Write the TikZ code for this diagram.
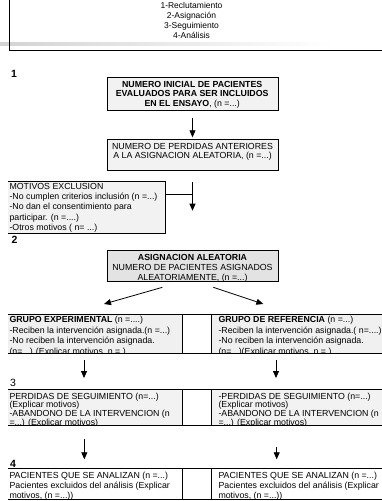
\documentclass[tikz,border=0pt]{standalone}
\usepackage{fontspec}
\setmainfont{Liberation Sans}
\usetikzlibrary{arrows.meta}
\definecolor{paleGray}{HTML}{F2F2F2}
\definecolor{cellGray}{HTML}{F0F0F0}
\definecolor{midGray}{HTML}{E3E3E3}
\begin{document}
\begin{tikzpicture}[x=1pt,y=-1pt,
  frame/.style={draw=black,line width=0.9pt},
  cell/.style={rectangle,inner sep=0pt,outer sep=0pt},
  body/.style={inner sep=0pt,anchor=north west,align=left,font=\fontsize{8.8}{10.5}\selectfont},
  cbody/.style={inner sep=0pt,anchor=north,align=center,font=\fontsize{8.8}{10}\selectfont},
  arr/.style={-{Triangle[length=7pt,width=6pt]},line width=0.8pt},
  link/.style={line width=0.8pt},
  stage/.style={inner sep=0pt,font=\bfseries\fontsize{10.5}{12}\selectfont}]
\useasboundingbox (0,0) rectangle (382,501);

% header with the four phases
\shade[left color=black!17,right color=white] (0,42) rectangle (335,45);
\draw[line width=1pt] (9.5,0) |- (382,50);
\node[cbody,font=\fontsize{8.5}{10}\selectfont] (hdr) at (191.5,1.2)
  {\rule{0pt}{7pt}1-Reclutamiento\\2-Asignación\\3-Seguimiento\\4-Análisis};

% phase 1: recruitment
\node[stage] (s1) at (14,74) {1};
\node[cell,frame,fill=paleGray,minimum width=171pt,minimum height=32.7pt] (b1) at (192.5,93.65) {};
\node[cbody,font=\fontsize{8.8}{9.7}\selectfont] (b1t) at (192.2,80)
  {\rule{0pt}{7pt}\textbf{NUMERO INICIAL DE PACIENTES}\\\textbf{EVALUADOS PARA SER INCLUIDOS}\\\textbf{EN EL ENSAYO}, (n =...)};

\node[cell,frame,fill=paleGray,minimum width=171pt,minimum height=31.7pt] (b2) at (192.5,154.85) {};
\node[cbody,font=\fontsize{8.8}{9}\selectfont] (b2t) at (192.5,142)
  {\rule{0pt}{7pt}NUMERO DE PERDIDAS ANTERIORES\\A LA ASIGNACION ALEATORIA, (n =...)};

\draw[arr,shorten <=8pt,shorten >=1.7pt] (b1.south) -- (b2.north);

% exclusions
\node[cell,fill=paleGray,minimum width=157pt,minimum height=51.6pt] (mot) at (86.5,207.5) {};
\draw[frame] (mot.north west) -- (mot.north east) -- (mot.south east) -- (mot.south west);
\begin{scope}
  \clip (mot.north west) rectangle (mot.south east);
  \node[body,font=\fontsize{8.8}{10.3}\selectfont] (mott) at (9.3,182)
    {\rule{0pt}{7pt}MOTIVOS EXCLUSION\\-No cumplen criterios inclusión (n =...)\\-No dan el consentimiento para\\participar. (n =....)\\-Otros motivos ( n= ...)};
\end{scope}

\coordinate (j2) at (192.5,194);
\coordinate (t2) at (192.5,210.7);
\draw[arr,shorten <=11pt] (b2.south) -- (t2);
\draw[link] (mot.east |- j2) -- (j2);

% phase 2: allocation
\node[stage] (s2) at (14.5,240) {2};
\node[cell,frame,fill=midGray,minimum width=171pt,minimum height=31.7pt] (as) at (192.5,265.85) {};
\node[cbody] (ast) at (192.5,253)
  {\rule{0pt}{7pt}\textbf{ASIGNACION ALEATORIA}\\NUMERO DE PACIENTES ASIGNADOS\\ALEATORIAMENTE, (n =...)};

\coordinate (tL) at (104,304);
\coordinate (tR) at (263.3,304);
\draw[arr,shorten <=20.5pt] ([xshift=-10.5pt]as.south) -- (tL);
\draw[arr,shorten <=17.7pt] ([xshift=4pt]as.south) -- (tR);

% study groups
\node[cell,fill=cellGray,minimum width=174.7pt,minimum height=39.2pt] (gL) at (95.35,333.9) {};
\node[cell,fill=cellGray,minimum width=170.3pt,minimum height=39.2pt] (gR) at (296.85,333.9) {};
\draw[frame] (gL.north west) -- (gR.north east) (gL.south west) -- (gR.south east)
  (gL.north east) -- (gL.south east) (gR.north west) -- (gR.south west);
\begin{scope}
  \clip (gL.north west) rectangle (gR.south east);
  \node[body,font=\fontsize{8.8}{10.6}\selectfont] (gLt) at (9.3,315.2)
    {\rule{0pt}{7pt}\textbf{GRUPO EXPERIMENTAL} (n =....)\\-Reciben la intervención asignada.(n =...)\\-No reciben la intervención asignada.\\(n=...) (Explicar motivos, n = )};
  \node[body,font=\fontsize{8.8}{10.6}\selectfont] (gRt) at (218.3,315.2)
    {\rule{0pt}{7pt}\textbf{GRUPO DE REFERENCIA} (n =...)\\-Reciben la intervención asignada.( n=....)\\-No reciben la intervención asignada.\\(n=...)(Explicar motivos, n = )};
\end{scope}

% phase 3: follow-up
\node[stage,font=\fontsize{10.5}{12}\selectfont] (s3) at (13,382.5) {3};
\node[cell,fill=paleGray,minimum width=174.7pt,minimum height=36.4pt] (pL) at (95.35,407.5) {};
\node[cell,fill=paleGray,minimum width=170.3pt,minimum height=36.4pt] (pR) at (296.85,407.5) {};
\draw[frame] (pL.north west) -- (pR.north east) (pL.south west) -- (pR.south east)
  (pL.north east) -- (pL.south east) (pR.north west) -- (pR.south west);
\begin{scope}
  \clip (pL.north west) rectangle (pR.south east);
  \node[body,font=\fontsize{8.8}{8.7}\selectfont] (pLt) at (9.3,391.8)
    {\rule{0pt}{7pt}PERDIDAS DE SEGUIMIENTO (n=...)\\(Explicar motivos)\\-ABANDONO DE LA INTERVENCION (n\\=...) (Explicar motivos)};
  \node[body,font=\fontsize{8.8}{8.7}\selectfont] (pRt) at (218.3,391.8)
    {\rule{0pt}{7pt}-PERDIDAS DE SEGUIMIENTO (n=...)\\(Explicar motivos)\\-ABANDONO DE LA INTERVENCION (n\\=...) (Explicar motivos)};
\end{scope}

\draw[arr,shorten <=6.5pt,shorten >=11.3pt] ([xshift=-11.35pt]gL.south) -- ([xshift=-11.35pt]pL.north);
\draw[arr,shorten <=6.5pt,shorten >=11.3pt] ([xshift=-20.85pt]gR.south) -- ([xshift=-20.85pt]pR.north);

% phase 4: analysis
\node[stage] (s4) at (13,464) {4};
\node[cell,fill=white,minimum width=174.7pt,minimum height=30.7pt] (aL) at (95.35,483.65) {};
\node[cell,fill=white,minimum width=170.3pt,minimum height=30.7pt] (aR) at (296.85,483.65) {};
\draw[frame] (aL.north west) -- (aR.north east) (aL.south west) -- (aR.south east)
  (aL.north east) -- (aL.south east) (aR.north west) -- (aR.south west);
\begin{scope}
  \clip (aL.north west) rectangle (aR.south east);
  \node[body,font=\fontsize{8.8}{10.2}\selectfont] (aLt) at (9.3,471.2)
    {\rule{0pt}{7pt}PACIENTES QUE SE ANALIZAN (n =...)\\Pacientes excluidos del análisis (Explicar\\motivos, (n =...))};
  \node[body,font=\fontsize{8.8}{10.2}\selectfont] (aRt) at (218.3,471.2)
    {\rule{0pt}{7pt}PACIENTES QUE SE ANALIZAN (n =...)\\Pacientes excluidos del análisis (Explicar\\motivos, (n =...))};
\end{scope}

\draw[arr,shorten <=13.6pt,shorten >=9pt] ([xshift=-11pt]pL.south) -- ([xshift=-11pt]aL.north);
\draw[arr,shorten <=21.3pt,shorten >=9pt] ([xshift=-20.15pt]pR.south) -- ([xshift=-20.15pt]aR.north);
\end{tikzpicture}
\end{document}
